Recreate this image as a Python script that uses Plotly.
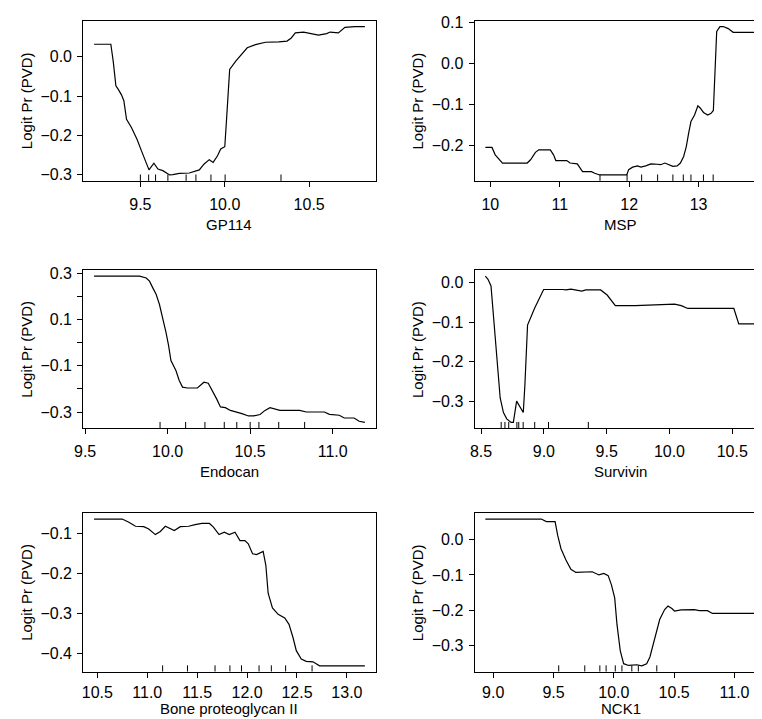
import plotly.graph_objects as go

# ---------------- data ----------------
gp114_x = [9.2255, 9.325, 9.339, 9.355, 9.369, 9.388, 9.402, 9.418, 9.447, 9.48, 9.506, 9.531,
           9.551, 9.58, 9.604, 9.633, 9.673, 9.692, 9.731, 9.79, 9.829, 9.849, 9.878, 9.908,
           9.931, 9.957, 9.976, 10.0, 10.01, 10.029, 10.065, 10.104, 10.133, 10.182, 10.241,
           10.32, 10.369, 10.394, 10.418, 10.467, 10.506, 10.555, 10.604, 10.624, 10.673,
           10.712, 10.771, 10.83]
gp114_y = [0.032, 0.032, -0.011, -0.074, -0.083, -0.097, -0.112, -0.159, -0.18, -0.21, -0.239,
           -0.269, -0.288, -0.271, -0.286, -0.29, -0.301, -0.3, -0.297, -0.296, -0.292, -0.288,
           -0.273, -0.262, -0.269, -0.252, -0.235, -0.229, -0.163, -0.032, -0.011, 0.008, 0.023,
           0.031, 0.037, 0.038, 0.04, 0.048, 0.061, 0.063, 0.059, 0.055, 0.059, 0.063, 0.061,
           0.075, 0.077, 0.077]
gp114_rug = [9.5, 9.549, 9.59, 9.663, 9.771, 9.829, 9.918, 10.002, 10.333]

msp_x = [9.929, 10.024, 10.071, 10.128, 10.176, 10.294, 10.532, 10.58, 10.65, 10.698, 10.864,
         10.911, 10.944, 11.101, 11.149, 11.253, 11.291, 11.329, 11.457, 11.504, 11.576, 11.965,
         11.993, 12.05, 12.121, 12.169, 12.24, 12.311, 12.406, 12.453, 12.515, 12.582, 12.629,
         12.691, 12.738, 12.785, 12.823, 12.857, 12.89, 12.942, 12.99, 13.023, 13.071, 13.132,
         13.18, 13.213, 13.261, 13.308, 13.356, 13.427, 13.498, 13.617, 13.83]
msp_y = [-0.204, -0.204, -0.222, -0.234, -0.242, -0.242, -0.242, -0.234, -0.216, -0.21, -0.21,
         -0.222, -0.236, -0.236, -0.242, -0.244, -0.254, -0.263, -0.263, -0.267, -0.271, -0.271,
         -0.258, -0.252, -0.249, -0.252, -0.249, -0.244, -0.245, -0.246, -0.242, -0.246, -0.25,
         -0.249, -0.242, -0.226, -0.202, -0.169, -0.141, -0.125, -0.103, -0.108, -0.119, -0.125,
         -0.121, -0.114, 0.078, 0.09, 0.09, 0.085, 0.076, 0.076, 0.076]
msp_rug = [11.58, 11.97, 12.18, 12.41, 12.63, 12.78, 12.89, 13.07, 13.21]

endocan_x = [9.554, 9.83, 9.87, 9.89, 9.91, 9.93, 9.95, 9.97, 9.99, 10.006, 10.02, 10.05, 10.07,
             10.09, 10.12, 10.18, 10.2, 10.22, 10.246, 10.27, 10.296, 10.32, 10.35, 10.38, 10.42,
             10.45, 10.49, 10.52, 10.56, 10.59, 10.62, 10.646, 10.68, 10.8, 10.84, 10.95, 10.98,
             11.04, 11.07, 11.13, 11.16, 11.195]
endocan_y = [0.289, 0.289, 0.281, 0.267, 0.238, 0.21, 0.167, 0.109, 0.045, -0.013, -0.077, -0.12,
             -0.163, -0.192, -0.196, -0.196, -0.185, -0.171, -0.175, -0.206, -0.242, -0.278,
             -0.281, -0.293, -0.3, -0.307, -0.317, -0.317, -0.311, -0.293, -0.281, -0.285, -0.293,
             -0.293, -0.3, -0.3, -0.31, -0.314, -0.326, -0.326, -0.34, -0.345]
endocan_rug = [9.954, 10.109, 10.226, 10.343, 10.419, 10.5, 10.553, 10.673, 10.83]

survivin_x = [8.534, 8.555, 8.579, 8.594, 8.613, 8.631, 8.652, 8.678, 8.704, 8.739, 8.757, 8.783,
              8.815, 8.836, 8.849, 8.87, 8.927, 8.998, 9.15, 9.176, 9.216, 9.255, 9.302, 9.334,
              9.452, 9.504, 9.569, 9.727, 9.989, 10.041, 10.094, 10.146, 10.513, 10.552, 10.691]
survivin_y = [0.017, 0.009, -0.008, -0.068, -0.143, -0.225, -0.292, -0.329, -0.345, -0.354,
              -0.354, -0.3, -0.316, -0.329, -0.258, -0.107, -0.064, -0.017, -0.017, -0.018,
              -0.016, -0.018, -0.021, -0.018, -0.018, -0.031, -0.058, -0.058, -0.056, -0.054,
              -0.058, -0.065, -0.065, -0.104, -0.104]
survivin_rug = [8.66, 8.69, 8.72, 8.785, 8.80, 8.835, 8.927, 9.037, 9.354]

bone_x = [10.467, 10.749, 10.816, 10.882, 10.965, 11.015, 11.081, 11.131, 11.181, 11.23, 11.271,
          11.331, 11.414, 11.48, 11.547, 11.623, 11.663, 11.719, 11.772, 11.822, 11.879, 11.929,
          11.978, 12.012, 12.055, 12.095, 12.161, 12.188, 12.211, 12.254, 12.311, 12.377, 12.42,
          12.46, 12.493, 12.543, 12.593, 12.66, 12.726, 13.058, 13.18]
bone_y = [-0.063, -0.063, -0.071, -0.081, -0.082, -0.088, -0.102, -0.094, -0.081, -0.088, -0.092,
          -0.082, -0.081, -0.077, -0.074, -0.074, -0.083, -0.102, -0.096, -0.102, -0.096, -0.117,
          -0.117, -0.125, -0.15, -0.152, -0.144, -0.179, -0.249, -0.286, -0.302, -0.311, -0.327,
          -0.36, -0.393, -0.414, -0.42, -0.421, -0.431, -0.431, -0.431]
bone_rug = [11.154, 11.403, 11.679, 11.828, 11.944, 12.12, 12.243, 12.386, 12.651]

nck1_x = [8.935, 9.399, 9.44, 9.513, 9.535, 9.562, 9.603, 9.644, 9.685, 9.821, 9.876, 9.917,
          9.953, 9.98, 10.007, 10.026, 10.053, 10.081, 10.122, 10.19, 10.231, 10.272, 10.299,
          10.34, 10.38, 10.421, 10.449, 10.481, 10.503, 10.558, 10.667, 10.708, 10.776, 10.817,
          11.18]
nck1_y = [0.058, 0.058, 0.051, 0.051, 0.011, -0.026, -0.058, -0.084, -0.093, -0.091, -0.1,
          -0.096, -0.102, -0.128, -0.165, -0.24, -0.314, -0.351, -0.356, -0.354, -0.357, -0.351,
          -0.332, -0.277, -0.226, -0.198, -0.188, -0.195, -0.202, -0.199, -0.198, -0.201, -0.201,
          -0.209, -0.209]
nck1_rug = [9.543, 9.759, 9.884, 9.936, 10.012, 10.067, 10.149, 10.203, 10.356]

x_labels = ["GP114", "MSP", "Endocan", "Survivin", "Bone proteoglycan II", "NCK1"]
y_label = "Logit Pr (PVD)"

gp114_xticks = [9.5, 10.0, 10.5]
gp114_xtext = ["9.5", "10.0", "10.5"]
gp114_yticks = [-0.3, -0.2, -0.1, 0.0]
gp114_ytext = ["\u22120.3", "\u22120.2", "\u22120.1", "0.0"]

msp_xticks = [10, 11, 12, 13]
msp_xtext = ["10", "11", "12", "13"]
msp_yticks = [-0.2, -0.1, 0.0, 0.1]
msp_ytext = ["\u22120.2", "\u22120.1", "0.0", "0.1"]

endocan_xticks = [9.5, 10.0, 10.5, 11.0]
endocan_xtext = ["9.5", "10.0", "10.5", "11.0"]
endocan_yticks = [-0.3, -0.2, -0.1, 0.0, 0.1, 0.2, 0.3]
endocan_ytext = ["\u22120.3", "", "\u22120.1", "", "0.1", "", "0.3"]

survivin_xticks = [8.5, 9.0, 9.5, 10.0, 10.5]
survivin_xtext = ["8.5", "9.0", "9.5", "10.0", "10.5"]
survivin_yticks = [-0.3, -0.2, -0.1, 0.0]
survivin_ytext = ["\u22120.3", "\u22120.2", "\u22120.1", "0.0"]

bone_xticks = [10.5, 11.0, 11.5, 12.0, 12.5, 13.0]
bone_xtext = ["10.5", "11.0", "11.5", "12.0", "12.5", "13.0"]
bone_yticks = [-0.4, -0.3, -0.2, -0.1]
bone_ytext = ["\u22120.4", "\u22120.3", "\u22120.2", "\u22120.1"]

nck1_xticks = [9.0, 9.5, 10.0, 10.5, 11.0]
nck1_xtext = ["9.0", "9.5", "10.0", "10.5", "11.0"]
nck1_yticks = [-0.3, -0.2, -0.1, 0.0]
nck1_ytext = ["\u22120.3", "\u22120.2", "\u22120.1", "0.0"]

# ---------------- layout ----------------
W, H = 762, 719
FONT = "Liberation Sans, Arial, Helvetica, sans-serif"
TICK_FS = 16
TITLE_FS = 15

col_px = [(67, 363), (463, 759)]
row_px = [(5.7, 168), (258.5, 418.5), (504.5, 665)]
row_title_off = [44, 44, 37]
row_tick_standoff = [4, 4, 1]

panels = [
    (gp114_x, gp114_y, gp114_rug, gp114_xticks, gp114_xtext, gp114_yticks, gp114_ytext),
    (msp_x, msp_y, msp_rug, msp_xticks, msp_xtext, msp_yticks, msp_ytext),
    (endocan_x, endocan_y, endocan_rug, endocan_xticks, endocan_xtext, endocan_yticks, endocan_ytext),
    (survivin_x, survivin_y, survivin_rug, survivin_xticks, survivin_xtext, survivin_yticks, survivin_ytext),
    (bone_x, bone_y, bone_rug, bone_xticks, bone_xtext, bone_yticks, bone_ytext),
    (nck1_x, nck1_y, nck1_rug, nck1_xticks, nck1_xtext, nck1_yticks, nck1_ytext),
]


def pad_range(v, frac=0.04):
    lo, hi = min(v), max(v)
    d = (hi - lo) * frac
    return [lo - d, hi + d]


fig = go.Figure()
layout = dict(width=W, height=H, margin=dict(l=0, r=0, t=0, b=0),
              paper_bgcolor="white", plot_bgcolor="white", showlegend=False,
              font=dict(family=FONT, size=TITLE_FS, color="black"), annotations=[])

for i, (px, py, rug, xt, xtt, yt, ytt) in enumerate(panels):
    r, c = divmod(i, 2)
    n = "" if i == 0 else str(i + 1)
    xa, ya = "x" + n, "y" + n
    (l, rr), (t, b) = col_px[c], row_px[r]
    xr = pad_range(px)
    yr = pad_range(py)

    fig.add_trace(go.Scatter(x=px, y=py, mode="lines", xaxis=xa, yaxis=ya,
                             line=dict(color="black", width=1.2), hoverinfo="skip"))
    rx, ry = [], []
    rug_top = yr[0] + 0.04 * (yr[1] - yr[0])
    for v in rug:
        rx += [v, v, None]
        ry += [yr[0], rug_top, None]
    fig.add_trace(go.Scatter(x=rx, y=ry, mode="lines", xaxis=xa, yaxis=ya,
                             line=dict(color="black", width=1), hoverinfo="skip"))

    axcommon = dict(showline=True, mirror=True, linecolor="black", linewidth=1,
                    showgrid=False, zeroline=False, ticks="outside", ticklen=5,
                    tickcolor="black", tickwidth=1,
                    tickfont=dict(family=FONT, size=TICK_FS, color="black"))
    layout["xaxis" + n] = dict(domain=[l / W, rr / W], range=xr, anchor=ya,
                               tickmode="array", tickvals=xt, ticktext=xtt,
                               ticklabelstandoff=row_tick_standoff[r], **axcommon)
    layout["yaxis" + n] = dict(domain=[1 - b / H, 1 - t / H], range=yr, anchor=xa,
                               tickmode="array", tickvals=yt, ticktext=ytt,
                               ticklabelstandoff=2, **axcommon)

    layout["annotations"].append(dict(text=x_labels[i], xref="paper", yref="paper",
                                      x=(l + rr) / 2 / W, y=1 - (b + row_title_off[r]) / H,
                                      xanchor="center", yanchor="middle", showarrow=False,
                                      font=dict(family=FONT, size=TITLE_FS, color="black")))
    layout["annotations"].append(dict(text=y_label, xref="paper", yref="paper",
                                      x=(l - 57.5) / W, y=1 - (t + b) / 2 / H,
                                      xanchor="center", yanchor="middle", textangle=-90,
                                      showarrow=False,
                                      font=dict(family=FONT, size=TITLE_FS, color="black")))

fig.update_layout(**layout)
fig.write_html("out.html")
